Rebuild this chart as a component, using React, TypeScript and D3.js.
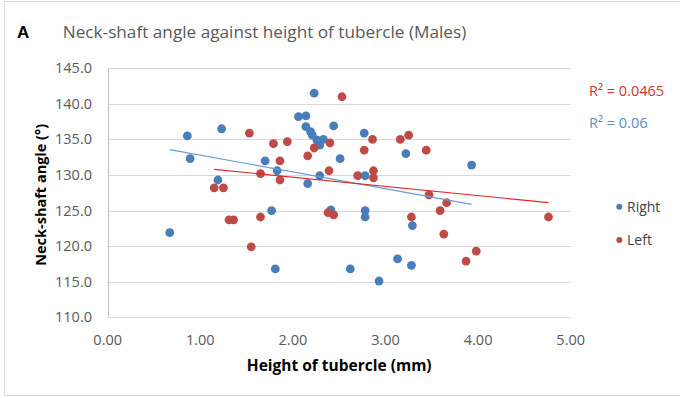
import React from 'react';
import * as d3 from 'd3';

// Right (blue) series: height of tubercle (mm), neck-shaft angle (deg)
const rightX = [0.67, 0.86, 0.89, 1.19, 1.23, 1.70, 1.77, 1.81, 1.83, 2.06, 2.14, 2.14, 2.19, 2.21, 2.26, 2.33, 2.29, 2.23, 2.44, 2.51, 2.77, 2.29, 2.16, 2.78, 3.22, 3.93, 2.41, 2.78, 2.78, 3.29, 2.62, 3.13, 3.28, 2.93];
const rightY = [121.9, 135.5, 132.3, 129.3, 136.5, 132.0, 125.0, 116.8, 130.6, 138.2, 138.3, 136.8, 136.1, 135.6, 134.9, 135.0, 134.2, 141.5, 136.9, 132.3, 135.9, 129.9, 128.8, 129.9, 133.0, 131.4, 125.1, 125.0, 124.1, 122.9, 116.8, 118.2, 117.3, 115.1];

// Left (red) series
const leftX = [1.15, 1.25, 1.31, 1.36, 1.53, 1.55, 1.65, 1.65, 1.79, 1.86, 1.86, 1.94, 2.16, 2.23, 2.40, 2.39, 2.53, 2.38, 2.44, 2.70, 2.77, 2.86, 2.87, 2.87, 3.16, 3.25, 3.44, 3.28, 3.47, 3.59, 3.66, 3.63, 3.87, 3.98, 4.76];
const leftY = [128.2, 128.2, 123.7, 123.7, 135.9, 119.9, 130.2, 124.1, 134.4, 132.0, 129.3, 134.7, 132.7, 133.8, 134.5, 130.6, 141.0, 124.7, 124.4, 129.9, 133.5, 135.0, 130.6, 129.6, 135.0, 135.6, 133.5, 124.1, 127.2, 125.0, 126.1, 121.7, 117.9, 119.3, 124.1];

const xTicks = [0, 1, 2, 3, 4, 5];
const yTicks = [110, 115, 120, 125, 130, 135, 140, 145];
const r2Labels = ['R² = 0.0465', 'R² = 0.06'];

const BLUE = '#4a7ebb';
const RED = '#be4b48';

// least squares trendline over the series' x range
const fitLine = (xs: number[], ys: number[]) => {
  const mx = d3.mean(xs) as number;
  const my = d3.mean(ys) as number;
  let num = 0;
  let den = 0;
  xs.forEach((x, i) => {
    num += (x - mx) * (ys[i] - my);
    den += (x - mx) * (x - mx);
  });
  const slope = num / den;
  const icpt = my - slope * mx;
  const [x0, x1] = d3.extent(xs) as [number, number];
  return [[x0, icpt + slope * x0], [x1, icpt + slope * x1]];
};

const App = () => {
  const width = 680;
  const height = 398;
  const x = d3.scaleLinear().domain([0, 5]).range([107.7, 570.7]);
  const y = d3.scaleLinear().domain([110, 145]).range([317.3, 68.3]);
  const line = d3.line<number[]>().x(d => x(d[0])).y(d => y(d[1]));

  const rightPts = rightX.map((v, i) => [v, rightY[i]]);
  const leftPts = leftX.map((v, i) => [v, leftY[i]]);
  const font = '"Open Sans", sans-serif';

  return (
    <svg width={width} height={height} style={{ position: 'absolute', left: 0, top: 0, background: '#fff' }} fontFamily={font}>
      <rect x={4.5} y={1.5} width={700} height={394} fill="none" stroke="#d9d9d9" />
      <text x={17} y={38} fontSize={17} fontWeight="bold" fontFamily="'Liberation Sans', Arial, sans-serif" fill="#000">A</text>
      <text x={264.5} y={38} textAnchor="middle" fontSize={17.2} fill="#595959">
        Neck-shaft angle against height of tubercle (Males)
      </text>

      {/* gridlines */}
      {yTicks.map(t => (
        <line key={t} x1={x(0)} x2={x(5)} y1={Math.round(y(t)) + 0.5} y2={Math.round(y(t)) + 0.5} stroke="#d9d9d9" strokeWidth={1} />
      ))}
      <line x1={Math.round(x(0)) + 0.5} x2={Math.round(x(0)) + 0.5} y1={y(145)} y2={y(110)} stroke="#bfbfbf" />

      {yTicks.map(t => (
        <text key={t} x={92} y={y(t) + 5} textAnchor="end" fontSize={14.5} fill="#595959">{t.toFixed(1)}</text>
      ))}
      {xTicks.map(t => (
        <text key={t} x={x(t)} y={345} textAnchor="middle" fontSize={14.5} fill="#595959">{t.toFixed(2)}</text>
      ))}

      <text x={x(2.5)} y={371} textAnchor="middle" fontSize={15.5} fontWeight="bold" fill="#000">Height of tubercle (mm)</text>
      <text transform={`translate(46,${(y(145) + y(110)) / 2 + 2}) rotate(-90)`} textAnchor="middle" fontSize={14.5} fontWeight="bold" fill="#000">Neck-shaft angle (°)</text>

      {rightPts.map((d, i) => (
        <circle key={'r' + i} cx={x(d[0])} cy={y(d[1])} r={4.4} fill={BLUE} />
      ))}
      {leftPts.map((d, i) => (
        <circle key={'l' + i} cx={x(d[0])} cy={y(d[1])} r={4.4} fill={RED} />
      ))}

      <path d={line(fitLine(rightX, rightY)) || ''} fill="none" stroke="#6a9bd3" strokeWidth={1.2} />
      <path d={line(fitLine(leftX, leftY)) || ''} fill="none" stroke="#e0282a" strokeWidth={1.2} />

      <text x={589} y={96} fontSize={14.5} fill="#d9312f">{r2Labels[0]}</text>
      <text x={589} y={128} fontSize={14.5} fill="#5b8fcb">{r2Labels[1]}</text>

      <circle cx={619.3} cy={206.7} r={3} fill={BLUE} />
      <text x={627} y={212} fontSize={14} fill="#404040">Right</text>
      <circle cx={619.3} cy={240} r={3} fill={RED} />
      <text x={627} y={245} fontSize={14} fill="#404040">Left</text>
    </svg>
  );
};

export default App;
